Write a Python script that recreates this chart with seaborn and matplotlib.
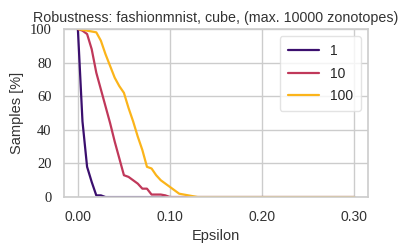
import numpy as np
import pandas as pd
import matplotlib
matplotlib.use('Agg')
import matplotlib.pyplot as plt
import seaborn as sns

# Data (epsilon in steps of 0.005)
epsilon = [0.000, 0.005, 0.010, 0.015, 0.020, 0.025, 0.030, 0.035, 0.040, 0.045,
           0.050, 0.055, 0.060, 0.065, 0.070, 0.075, 0.080, 0.085, 0.090, 0.095,
           0.100, 0.105, 0.110, 0.115, 0.120, 0.125, 0.130, 0.140, 0.150, 0.160,
           0.170, 0.180, 0.190, 0.200, 0.210, 0.220, 0.230, 0.240, 0.250, 0.260,
           0.270, 0.280, 0.290, 0.300]
samples_1 = [100, 45, 18, 9, 1, 1, 0, 0, 0, 0,
             0, 0, 0, 0, 0, 0, 0, 0, 0, 0,
             0, 0, 0, 0, 0, 0, 0, 0, 0, 0,
             0, 0, 0, 0, 0, 0, 0, 0, 0, 0,
             0, 0, 0, 0]
samples_10 = [100, 99, 97, 88, 74, 64, 54, 44, 33, 23,
              13, 12, 10, 8, 5, 5, 1.5, 1.5, 1.5, 1,
              0, 0, 0, 0, 0, 0, 0, 0, 0, 0,
              0, 0, 0, 0, 0, 0, 0, 0, 0, 0,
              0, 0, 0, 0]
samples_100 = [100, 99.5, 99, 98.5, 98, 93, 85, 78, 71, 66,
               62, 53, 45, 36, 28, 18, 17, 13, 10, 8,
               6, 4, 2, 1.5, 1, 0.5, 0, 0, 0, 0,
               0, 0, 0, 0, 0, 0, 0, 0, 0, 0,
               0, 0, 0, 0]
series_labels = ['1', '10', '100']
colors = ['#3b0f6e', '#c0385a', '#fbb41a']

df = pd.DataFrame({
    'Epsilon': epsilon * 3,
    'Samples': samples_1 + samples_10 + samples_100,
    'Zonotopes': [series_labels[0]] * len(epsilon) + [series_labels[1]] * len(epsilon)
                 + [series_labels[2]] * len(epsilon),
})

sns.set_theme(style='whitegrid')
plt.rcParams['font.family'] = ['Liberation Sans', 'DejaVu Sans']

fig, ax = plt.subplots(figsize=(4.08, 2.52), dpi=100)
fig.subplots_adjust(left=0.157, right=0.902, top=0.885, bottom=0.218)

sns.lineplot(data=df, x='Epsilon', y='Samples', hue='Zonotopes',
             palette=colors, linewidth=1.6, ax=ax)

ax.set_xlim(-0.015, 0.315)
ax.set_ylim(0, 100)
ax.set_xticks([0.0, 0.1, 0.2, 0.3])
ax.set_xticklabels(['0.00', '0.10', '0.20', '0.30'])
ax.set_yticks([0, 20, 40, 60, 80, 100])
ax.tick_params(axis='x', labelsize=10, pad=3)
ax.tick_params(axis='y', labelsize=10.5, pad=3)
for lbl in ax.get_yticklabels():
    lbl.set_family(['Liberation Serif', 'DejaVu Serif'])
for lbl in ax.get_xticklabels():
    lbl.set_color('#333333')

ax.set_xlabel('Epsilon', fontsize=10.5, color='#333333')
ax.set_ylabel('Samples [%]', fontsize=10.5, color='#333333')
ax.set_title('Robustness: fashionmnist, cube, (max. 10000 zonotopes)', fontsize=10.3, color='#333333', pad=5)

for s in ax.spines.values():
    s.set_color('#cccccc')
    s.set_linewidth(1.2)
ax.grid(color='#cccccc', linewidth=1.0)

leg = ax.legend(title=None, loc='upper right', fontsize=10, frameon=True,
                handlelength=2.2, borderpad=0.6, labelspacing=0.6)
leg.get_frame().set_edgecolor('#dddddd')

fig.savefig('out.png', dpi=100)
